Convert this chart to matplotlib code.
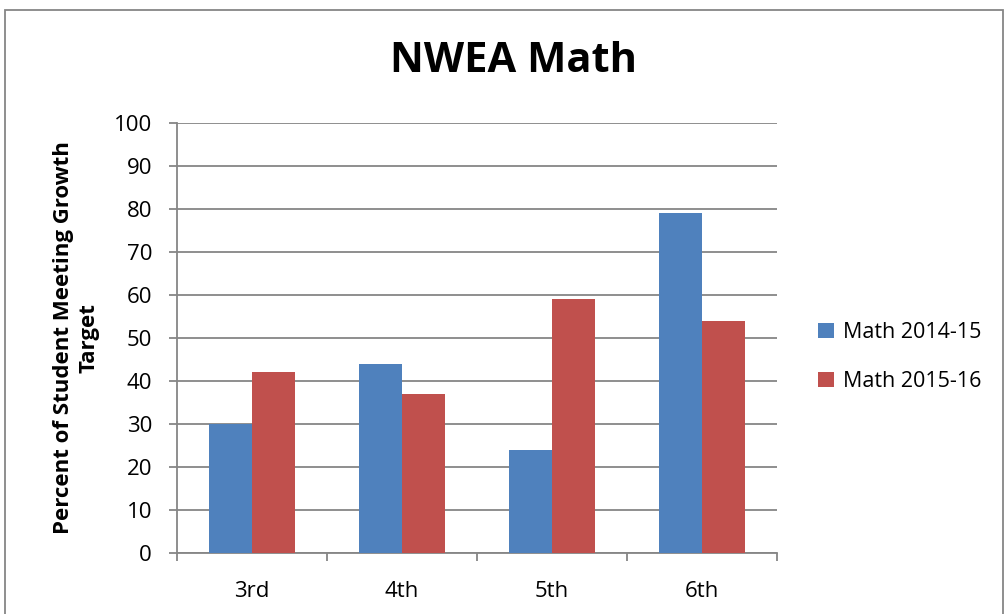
import matplotlib
matplotlib.use("Agg")
import matplotlib.pyplot as plt
from matplotlib.patches import Rectangle
import numpy as np

categories = ["3rd", "4th", "5th", "6th"]
math_2014_15 = [30, 44, 24, 79]
math_2015_16 = [42, 37, 59, 54]
series_labels = ["Math 2014-15", "Math 2015-16"]
yticks = list(range(0, 101, 10))

plt.rcParams['font.family'] = ['Open Sans', 'DejaVu Sans']

fig = plt.figure(figsize=(10.08, 6.14), dpi=100)
ax = fig.add_axes([177/1008, 61/614, 600/1008, 430/614])

x = np.arange(len(categories))
w = 0.285
b1 = ax.bar(x - w/2, math_2014_15, w, color="#4F81BD", label=series_labels[0], zorder=3)
b2 = ax.bar(x + w/2, math_2015_16, w, color="#C0504D", label=series_labels[1], zorder=3)

ax.set_xlim(-0.5, len(categories) - 0.5)
ax.set_ylim(0, 100)
ax.set_yticks(yticks)
ax.set_xticks(x)
ax.set_xticklabels(categories, fontsize=16)
ax.set_xticks(np.arange(len(categories) + 1) - 0.5, minor=True)
ax.tick_params(axis='x', which='major', length=0, pad=20)
ax.tick_params(axis='x', which='minor', length=6, color="#868686", width=1.3, direction='out')
ax.tick_params(axis='y', length=6, color="#868686", width=1.3, labelsize=16, pad=12)
ax.yaxis.grid(True, color="#868686", linewidth=1.3, zorder=0)
for s in ['top', 'right']:
    ax.spines[s].set_visible(False)
for s in ['left', 'bottom']:
    ax.spines[s].set_color("#868686")
    ax.spines[s].set_linewidth(1.3)

ax.set_ylabel("Percent of Student Meeting Growth\nTarget", fontsize=16, fontweight='bold',
              labelpad=10, linespacing=1.3)
fig.text(513/1008, 1 - 62/614, "NWEA Math", ha='center', va='center', fontsize=30, fontweight='bold')

fig.legend(handles=[b1, b2], labels=series_labels, loc='center left',
           bbox_to_anchor=(818/1008, 1 - 357/614), frameon=False, fontsize=15.5,
           borderaxespad=0, borderpad=0,
           handlelength=0.72, handleheight=0.72, handletextpad=0.45, labelspacing=1.3)

fig.patches.append(Rectangle((5/1008, -0.02), 998/1008, 1 - 10/614 + 0.02,
                             transform=fig.transFigure, fill=False,
                             edgecolor="#868686", linewidth=1.3))

fig.savefig("out.png", dpi=100)
